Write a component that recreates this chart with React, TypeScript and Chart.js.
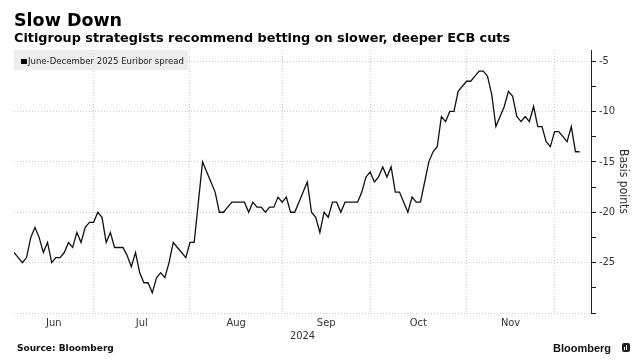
import React, { useEffect, useRef } from 'react';
import { Chart, registerables } from 'chart.js';

Chart.register(...registerables);

// ---- text ----
const titleText = 'Slow Down';
const subtitleText = 'Citigroup strategists recommend betting on slower, deeper ECB cuts';
const seriesName = 'June-December 2025 Euribor spread';
const yAxisTitle = 'Basis points';
const yearLabel = '2024';
const sourceText = 'Source: Bloomberg';
const brandText = 'Bloomberg';

// ---- x axis: trading-day index ----
const monthNames = ['Jun', 'Jul', 'Aug', 'Sep', 'Oct', 'Nov'];
// trading-day index at which each month starts (first = first data point, last = Dec)
const monthBounds = [0, 19, 42, 64, 85, 108, 129];
const xMax = 137.7;

// ---- y axis ----
const yMin = -30;
const yMax = -3.9;
const yTickValues = [-30, -27.5, -25, -22.5, -20, -17.5, -15, -12.5, -10, -7.5, -5];

// ---- series: June-December 2025 Euribor spread (bp), one value per trading day ----
const spread = [
  -24, -24.5, -25, -24.5, -22.5, -21.5, -22.5, -24, -23, -25,
  -24.5, -24.5, -24, -23, -23.5, -22, -23, -21.5, -21, -21,
  -20, -20.5, -23, -22, -23.5, -23.5, -23.5, -24.3, -25.4, -24,
  -26, -27, -27, -28, -26.5, -26, -26.5, -25, -23, -23.5,
  -24, -24.5, -23, -23, -19, -15, -16, -17, -18, -20,
  -20, -19.5, -19, -19, -19, -19, -20, -19, -19.5, -19.5,
  -20, -19.5, -19.5, -18.5, -19, -18.5, -20, -20, -19, -18,
  -17, -20, -20.5, -22, -20, -20.5, -19, -19, -20, -19,
  -19, -19, -19, -18, -16.5, -16, -17, -16.5, -15.5, -16.5,
  -15.5, -18, -18, -19, -20, -18.5, -19, -19, -17, -15,
  -14, -13.5, -10.5, -11, -10, -10, -8, -7.5, -7, -7,
  -6.5, -6, -6, -6.5, -8.3, -11.5, -10.5, -9.5, -8, -8.5,
  -10.5, -11, -10.5, -11, -9.5, -11.5, -11.5, -13, -13.5, -12,
  -12, -12.5, -13, -11.5, -14, -14,
];

const FONT = '"DejaVu Sans Condensed", "DejaVu Sans", sans-serif';
const GRID = '#cccccc';
const TEXT = '#333333';

export default function App() {
  const canvasRef = useRef<HTMLCanvasElement | null>(null);

  useEffect(() => {
    const canvas = canvasRef.current;
    if (!canvas) return;
    const bounds = monthBounds.slice(1);
    const centers = monthNames.map((_, i) => (monthBounds[i] + monthBounds[i + 1]) / 2);
    const xTicks = [...bounds, ...centers].sort((a, b) => a - b);

    const chart = new Chart(canvas, {
      type: 'line',
      data: {
        datasets: [
          {
            label: seriesName,
            data: spread.map((v, i) => ({ x: i, y: v })),
            borderColor: '#111111',
            borderWidth: 1.3,
            pointRadius: 0,
            tension: 0,
            fill: false,
          },
        ],
      },
      options: {
        animation: false,
        responsive: false,
        devicePixelRatio: 1,
        layout: { padding: { left: 14, top: 50, right: 0, bottom: 0 } },
        plugins: {
          legend: { display: false },
          title: { display: false },
          tooltip: { enabled: false },
        },
        scales: {
          x: {
            type: 'linear',
            min: 0,
            max: xMax,
            afterBuildTicks: (scale: any) => {
              scale.ticks = xTicks.map((v) => ({ value: v }));
            },
            afterFit: (scale: any) => {
              scale.height = 51;
            },
            grid: {
              drawTicks: false,
              color: (ctx: any) =>
                ctx.tick && bounds.includes(ctx.tick.value) ? GRID : 'rgba(0,0,0,0)',
              lineWidth: 1,
            },
            border: { display: false, dash: [1, 2] },
            ticks: {
              autoSkip: false,
              maxRotation: 0,
              minRotation: 0,
              padding: 4,
              color: TEXT,
              font: { family: FONT, size: 11 },
              callback: (value: any) => {
                const i = centers.indexOf(Number(value));
                return i >= 0 ? monthNames[i] : '';
              },
            },
            title: {
              display: true,
              text: yearLabel,
              color: TEXT,
              font: { family: FONT, size: 11 },
              padding: { top: 0, bottom: 21.4 },
            },
          },
          y: {
            type: 'linear',
            position: 'right',
            min: yMin,
            max: yMax,
            afterBuildTicks: (scale: any) => {
              scale.ticks = yTickValues.map((v) => ({ value: v }));
            },
            afterFit: (scale: any) => {
              scale.width = 46;
            },
            grid: {
              drawTicks: true,
              tickLength: 5,
              tickColor: '#222222',
              tickWidth: 1,
              lineWidth: 1,
              color: (ctx: any) =>
                ctx.tick && ctx.tick.value % 5 === 0 ? GRID : 'rgba(0,0,0,0)',
            },
            border: { display: true, color: '#222222', width: 1, dash: [1, 2] },
            ticks: {
              autoSkip: false,
              padding: 3,
              color: TEXT,
              font: { family: FONT, size: 11 },
              callback: (value: any) => {
                const v = Number(value);
                return v % 5 === 0 && v !== yMin ? String(v) : '';
              },
            },
            title: {
              display: true,
              text: yAxisTitle,
              color: TEXT,
              font: { family: FONT, size: 12 },
              padding: { top: 7, bottom: 0 },
            },
          },
        },
      },
    });
    return () => chart.destroy();
  }, []);

  return (
    <div
      style={{
        position: 'fixed',
        left: 0,
        top: 0,
        width: 637,
        height: 364,
        background: '#ffffff',
        overflow: 'hidden',
      }}
    >
      <canvas ref={canvasRef} width={637} height={364} style={{ position: 'absolute', left: 0, top: 0 }} />
      <div
        style={{
          position: 'absolute',
          left: 14,
          top: 12,
          fontFamily: '"DejaVu Sans", sans-serif',
          fontWeight: 'bold',
          fontSize: 17.5,
          lineHeight: '17.5px',
          color: '#000',
          whiteSpace: 'nowrap',
        }}
      >
        {titleText}
      </div>
      <div
        style={{
          position: 'absolute',
          left: 14,
          top: 31.8,
          fontFamily: '"DejaVu Sans", sans-serif',
          fontWeight: 'bold',
          fontSize: 12.8,
          lineHeight: '12.8px',
          color: '#000',
          whiteSpace: 'nowrap',
        }}
      >
        {subtitleText}
      </div>
      <div
        style={{
          position: 'absolute',
          left: 14,
          top: 50,
          width: 174,
          height: 20,
          background: 'rgba(225,225,225,0.6)',
        }}
      >
        <div
          style={{
            position: 'absolute',
            left: 7,
            top: 8.5,
            width: 5.5,
            height: 5.5,
            background: '#000',
          }}
        />
        <div
          style={{
            position: 'absolute',
            left: 14,
            top: 6.3,
            fontFamily: FONT,
            fontSize: 9.5,
            lineHeight: '9.5px',
            color: '#222',
            whiteSpace: 'nowrap',
          }}
        >
          {seriesName}
        </div>
      </div>
      <div
        style={{
          position: 'absolute',
          left: 17,
          top: 344,
          fontFamily: '"DejaVu Sans", sans-serif',
          fontWeight: 'bold',
          fontSize: 9,
          lineHeight: '9px',
          color: '#111',
          whiteSpace: 'nowrap',
        }}
      >
        {sourceText}
      </div>
      <div
        style={{
          position: 'absolute',
          left: 553,
          top: 343,
          fontFamily: '"Liberation Sans", Arial, sans-serif',
          fontWeight: 'bold',
          fontSize: 11,
          lineHeight: '11px',
          color: '#111',
          whiteSpace: 'nowrap',
        }}
      >
        {brandText}
      </div>
      <div
        style={{
          position: 'absolute',
          left: 622,
          top: 343,
          width: 8,
          height: 9,
          background: '#222',
          borderRadius: 2,
        }}
      >
        <div style={{ position: 'absolute', left: 2, top: 4, width: 1, height: 3, background: '#fff' }} />
        <div style={{ position: 'absolute', left: 4, top: 2, width: 1, height: 5, background: '#fff' }} />
      </div>
    </div>
  );
}
